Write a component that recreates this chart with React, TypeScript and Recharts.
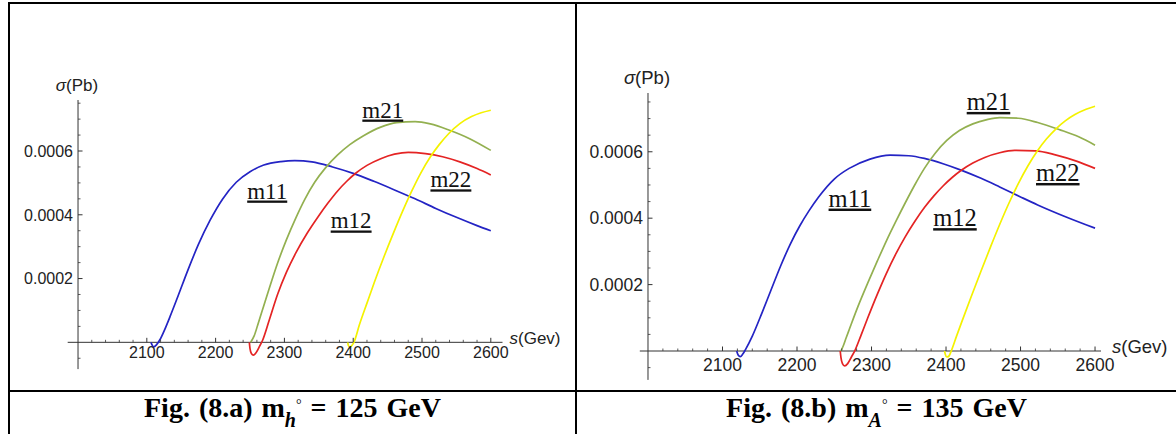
import React from 'react';
import { LineChart, Line, XAxis, YAxis, ReferenceLine, ReferenceDot } from 'recharts';

type Pt = { s: number; v: number };
const pts = (rows: number[][]): Pt[] => rows.map(([s, v]) => ({ s, v }));

// Fig. (8.a)  m_h = 125 GeV  -- sigma (Pb) against s (GeV)
const m11A = pts([
  [2106, 0], [2110, -0.000014], [2114, -0.000008], [2119, 0.000008], [2126, 0.00004], [2134, 0.000082],
  [2145, 0.000143], [2160, 0.000228], [2175, 0.000307], [2192, 0.000383], [2210, 0.000449], [2230, 0.000502],
  [2250, 0.000535], [2270, 0.000556], [2295, 0.000567], [2315, 0.00057], [2340, 0.000566], [2370, 0.00055],
  [2400, 0.00053], [2430, 0.000505], [2460, 0.000478], [2490, 0.00045], [2520, 0.00042], [2550, 0.000392],
  [2580, 0.000366], [2600, 0.00035],
]);
const m12A = pts([
  [2249, 0], [2250, -0.00002], [2252, -0.000035], [2255, -0.00004], [2259, -0.000032], [2264, -0.000012],
  [2268, 0.000005], [2278, 0.00007], [2290, 0.00015], [2303, 0.00022], [2317, 0.000282], [2333, 0.000342],
  [2349, 0.000394], [2363, 0.000436], [2377, 0.000474], [2391, 0.000506], [2404, 0.000531], [2420, 0.000555],
  [2440, 0.000576], [2460, 0.00059], [2480, 0.000596], [2505, 0.000592], [2530, 0.000582], [2555, 0.000566],
  [2580, 0.000545], [2600, 0.000525],
]);
const m21A = pts([
  [2251, 0], [2256, 0.00002], [2262, 0.00006], [2270, 0.000115], [2280, 0.000183], [2290, 0.000248],
  [2303, 0.000322], [2317, 0.000392], [2330, 0.00045], [2344, 0.000502], [2360, 0.000548], [2377, 0.000587],
  [2395, 0.00062], [2415, 0.000648], [2440, 0.000675], [2463, 0.000689], [2490, 0.000692], [2512, 0.000685],
  [2539, 0.000666], [2570, 0.000638], [2600, 0.000602],
]);
const m22A = pts([
  [2392, 0], [2393, -0.00001], [2395, -0.000015], [2398, -0.00001], [2401, 0], [2409, 0.000055],
  [2420, 0.000123], [2431, 0.00019], [2445, 0.00027], [2458, 0.00034], [2472, 0.000412], [2485, 0.000474],
  [2498, 0.00053], [2512, 0.000581], [2525, 0.00062], [2539, 0.000655], [2555, 0.000686], [2572, 0.000708],
  [2586, 0.00072], [2600, 0.000728],
]);

// Fig. (8.b)  m_A = 135 GeV
const m11B = pts([
  [2119, 0], [2121, -0.000012], [2124, -0.000017], [2127, -0.00001], [2131, 0.000005], [2140, 0.000045],
  [2153, 0.000115], [2165, 0.000183], [2178, 0.000256], [2191, 0.000322], [2204, 0.000378], [2216, 0.000422],
  [2229, 0.000464], [2250, 0.000518], [2270, 0.00055], [2298, 0.000578], [2325, 0.00059], [2350, 0.000588],
  [2371, 0.00058], [2396, 0.000564], [2421, 0.000544], [2447, 0.00052], [2472, 0.000494], [2500, 0.000464],
  [2523, 0.00044], [2562, 0.000403], [2600, 0.00037],
]);
const m12B = pts([
  [2258, 0], [2259, -0.00002], [2261, -0.000038], [2264, -0.000045], [2268, -0.000038], [2273, -0.000018],
  [2278, 0.000003], [2286, 0.000048], [2295, 0.0001], [2308, 0.000172], [2320, 0.000234], [2333, 0.000294],
  [2345, 0.000343], [2358, 0.00039], [2371, 0.000432], [2384, 0.000468], [2396, 0.000497], [2409, 0.000524],
  [2421, 0.000545], [2436, 0.000566], [2452, 0.000583], [2472, 0.000597], [2492, 0.000604], [2520, 0.000603],
  [2548, 0.00059], [2575, 0.000572], [2600, 0.00055],
]);
const m21B = pts([
  [2259, 0], [2262, 0.000015], [2266, 0.00004], [2270, 0.000064], [2282, 0.000135], [2295, 0.000205],
  [2308, 0.000272], [2320, 0.000332], [2333, 0.000392], [2345, 0.000445], [2358, 0.0005], [2371, 0.00055],
  [2386, 0.000597], [2401, 0.000634], [2418, 0.000664], [2436, 0.000684], [2455, 0.000697], [2472, 0.000703],
  [2497, 0.000701], [2523, 0.000688], [2553, 0.000666], [2578, 0.000645], [2600, 0.00062],
]);
const m22B = pts([
  [2398, 0], [2399, -0.00001], [2401, -0.000018], [2404, -0.000015], [2407, 0], [2414, 0.000044],
  [2421, 0.000087], [2434, 0.000165], [2447, 0.000241], [2460, 0.000315], [2472, 0.000381], [2485, 0.000448],
  [2497, 0.000504], [2510, 0.000558], [2523, 0.000604], [2535, 0.000639], [2548, 0.00067], [2560, 0.000693],
  [2573, 0.000712], [2588, 0.000728], [2600, 0.000737],
]);

const sTicks = [2100, 2200, 2300, 2400, 2500, 2600];
const sigmaTicks = [0.0002, 0.0004, 0.0006];
const curveNames = ['m11', 'm12', 'm21', 'm22'];
const curveColors = ['#2424c4', '#e42424', '#93b050', '#f4f200'];

// where the curve names sit, in (s, sigma)
const labelPosA = [[2275, 0.000451], [2397, 0.000357], [2443, 0.000705], [2542, 0.000486]];
const labelPosB = [[2271, 0.000435], [2412, 0.000376], [2457, 0.000726], [2550, 0.000512]];

type PanelProps = {
  series: Pt[][];
  labelPos: number[][];
  left: number;
  width: number;
  margin: { top: number; right: number; bottom: number; left: number };
  xDomain: [number, number];
  yDomain: [number, number];
  font: number;
  xLabelDy: number;
  sGap: number;
};

const SANS = '"Liberation Sans", Arial, sans-serif';
const SERIF = '"Liberation Serif", "Times New Roman", serif';
const AXIS = '#333';

function Panel({ series, labelPos, left, width, margin, xDomain, yDomain, font, xLabelDy, sGap }: PanelProps) {
  const minorS: number[] = [];
  for (let s = 2020; s <= 2600; s += 20) if (s % 100 !== 0) minorS.push(s);
  const minorV: number[] = [];
  for (let k = -1; k * 0.00005 < yDomain[1]; k++) if (k % 4 !== 0) minorV.push(k * 0.00005);

  return (
    <div style={{ position: 'absolute', left, top: 4 }}>
      <LineChart width={width} height={386} margin={margin}>
        <XAxis type="number" dataKey="s" domain={xDomain} allowDataOverflow hide />
        <YAxis type="number" dataKey="v" domain={yDomain} allowDataOverflow hide />
        <ReferenceLine y={0} stroke={AXIS} strokeWidth={1} />
        <ReferenceLine x={2000} stroke={AXIS} strokeWidth={1} />
        {minorS.map((s) => (
          <ReferenceDot key={'ms' + s} x={s} y={0} shape={(p: any) => (
            <line x1={p.cx} y1={p.cy} x2={p.cx} y2={p.cy - 2.5} stroke={AXIS} strokeWidth={0.8} />
          )} />
        ))}
        {sTicks.map((s) => (
          <ReferenceDot key={'s' + s} x={s} y={0} shape={(p: any) => (
            <g>
              <line x1={p.cx} y1={p.cy} x2={p.cx} y2={p.cy - 4.5} stroke={AXIS} strokeWidth={1} />
              <text x={p.cx} y={p.cy + xLabelDy} textAnchor="middle" fontFamily={SANS} fontSize={font} fill="#222">{s}</text>
            </g>
          )} />
        ))}
        {minorV.map((v) => (
          <ReferenceDot key={'mv' + v} x={2000} y={v} shape={(p: any) => (
            <line x1={p.cx} y1={p.cy} x2={p.cx + 2.5} y2={p.cy} stroke={AXIS} strokeWidth={0.8} />
          )} />
        ))}
        {sigmaTicks.map((v) => (
          <ReferenceDot key={'v' + v} x={2000} y={v} shape={(p: any) => (
            <g>
              <line x1={p.cx} y1={p.cy} x2={p.cx + 4.5} y2={p.cy} stroke={AXIS} strokeWidth={1} />
              <text x={p.cx - 5} y={p.cy} dy="0.36em" textAnchor="end" fontFamily={SANS} fontSize={font} fill="#222">{v.toFixed(4)}</text>
            </g>
          )} />
        ))}
        <ReferenceDot x={2000} y={yDomain[1]} shape={(p: any) => (
          <text x={p.cx - 1} y={p.cy - 9.5} textAnchor="middle" fontFamily={SANS} fontSize={font + 1} fill="#222">
            <tspan fontStyle="italic">σ</tspan>(Pb)
          </text>
        )} />
        <ReferenceDot x={xDomain[1]} y={0} shape={(p: any) => (
          <text x={p.cx + sGap} y={p.cy} dy="0.1em" fontFamily={SANS} fontSize={font + 1} fill="#222">
            <tspan fontStyle="italic">s</tspan>(Gev)
          </text>
        )} />
        {series.map((d, i) => (
          <Line key={curveNames[i]} data={d} dataKey="v" type="monotone" stroke={curveColors[i]}
            strokeWidth={1.7} dot={false} activeDot={false} isAnimationActive={false} />
        ))}
        {labelPos.map(([s, v], i) => (
          <ReferenceDot key={'l' + i} x={s} y={v} shape={(p: any) => (
            <text x={p.cx} y={p.cy} textAnchor="middle" fontFamily={SERIF} fontSize={font + 7}
              textDecoration="underline" fill="#111">{curveNames[i]}</text>
          )} />
        ))}
      </LineChart>
    </div>
  );
}

const rule = (style: React.CSSProperties) => <div style={{ position: 'absolute', background: '#000', ...style }} />;

const captionStyle: React.CSSProperties = {
  position: 'absolute', top: 394, height: 28, lineHeight: '28px', textAlign: 'center',
  fontFamily: SERIF, fontWeight: 700, fontSize: 28, color: '#000', whiteSpace: 'nowrap', wordSpacing: 2,
};
const subStyle: React.CSSProperties = { fontStyle: 'italic', fontSize: 20, position: 'relative', top: 10 };
const degStyle: React.CSSProperties = { fontSize: 14, position: 'relative', top: -8, fontWeight: 400 };

export default function App() {
  return (
    <div style={{ position: 'absolute', left: 0, top: 0, width: 1176, height: 434, background: '#fff', overflow: 'hidden' }}>
      {rule({ left: 8, top: 2, width: 1168, height: 2 })}
      {rule({ left: 8, top: 2, width: 2, height: 432 })}
      {rule({ left: 575, top: 2, width: 2, height: 432 })}
      {rule({ left: 8, top: 390, width: 1168, height: 2 })}

      <Panel series={[m11A, m12A, m21A, m22A]} labelPos={labelPosA} left={10} width={565}
        margin={{ top: 96, right: 72.5, bottom: 20.9, left: 57.7 }}
        xDomain={[1985, 2617]} yDomain={[-0.000084, 0.00076]} font={16} xLabelDy={15.7} sGap={7} />
      <Panel series={[m11B, m12B, m21B, m22B]} labelPos={labelPosB} left={577} width={599}
        margin={{ top: 89, right: 75, bottom: 10.1, left: 62.8 }}
        xDomain={[1989, 2608]} yDomain={[-0.000087, 0.000777]} font={17.5} xLabelDy={20} sGap={11} />

      <div style={{ ...captionStyle, left: 10, width: 565 }}>
        Fig. (8.a) m<span style={subStyle}>h</span><span style={degStyle}>°</span> = 125 GeV
      </div>
      <div style={{ ...captionStyle, left: 577, width: 599 }}>
        Fig. (8.b) m<span style={subStyle}>A</span><span style={degStyle}>°</span> = 135 GeV
      </div>
    </div>
  );
}
